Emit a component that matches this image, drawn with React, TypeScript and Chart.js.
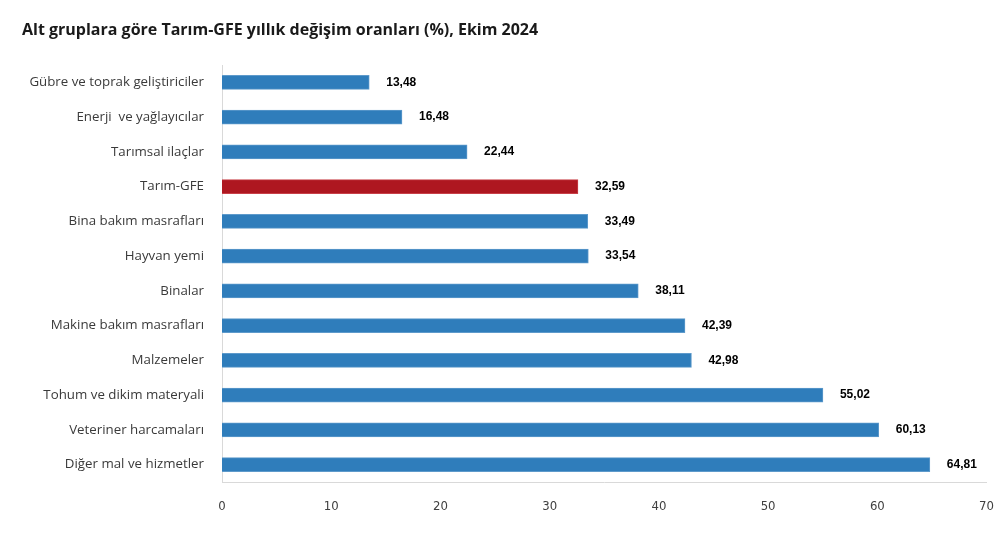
import React, { useEffect, useRef } from "react";
import { Chart, registerables } from "chart.js";

Chart.register(...registerables);

const categories = [
  "Gübre ve toprak geliştiriciler",
  "Enerji  ve yağlayıcılar",
  "Tarımsal ilaçlar",
  "Tarım-GFE",
  "Bina bakım masrafları",
  "Hayvan yemi",
  "Binalar",
  "Makine bakım masrafları",
  "Malzemeler",
  "Tohum ve dikim materyali",
  "Veteriner harcamaları",
  "Diğer mal ve hizmetler",
];
const values = [13.48, 16.48, 22.44, 32.59, 33.49, 33.54, 38.11, 42.39, 42.98, 55.02, 60.13, 64.81];
const highlight = "Tarım-GFE";
const xTicks = [0, 10, 20, 30, 40, 50, 60, 70];
const title = "Alt gruplara göre Tarım-GFE yıllık değişim oranları (%), Ekim 2024";

const BLUE = "#2F7DBB";
const RED = "#AE1720";

const labelPlugin = {
  id: "valueLabels",
  afterDatasetsDraw(chart: any) {
    const ctx = chart.ctx;
    const meta = chart.getDatasetMeta(0);
    ctx.save();
    ctx.font = "bold 12px 'Liberation Sans', Arial, sans-serif";
    ctx.fillStyle = "#000000";
    ctx.textBaseline = "middle";
    ctx.textAlign = "left";
    meta.data.forEach((bar: any, i: number) => {
      const txt = values[i].toFixed(2).replace(".", ",");
      ctx.fillText(txt, bar.x + 17, bar.y);
    });
    ctx.restore();
  },
};

const titlePlugin = {
  id: "customTitle",
  afterDraw(chart: any) {
    const ctx = chart.ctx;
    ctx.save();
    ctx.font = "bold 16px 'Open Sans', sans-serif";
    ctx.fillStyle = "#1a1a1a";
    ctx.textBaseline = "middle";
    ctx.textAlign = "left";
    ctx.fillText(title, 22, 30);
    ctx.restore();
  },
};

export default function App() {
  const ref = useRef<HTMLCanvasElement | null>(null);
  useEffect(() => {
    if (!ref.current) return;
    const chart = new Chart(ref.current, {
      type: "bar",
      data: {
        labels: categories,
        datasets: [
          {
            data: values,
            backgroundColor: categories.map((c) => (c === highlight ? RED : BLUE)),
            borderColor: categories.map((c) => (c === highlight ? "#C84048" : "#5E9ACB")),
            borderWidth: 1,
            barThickness: 14,
          },
        ],
      },
      options: {
        indexAxis: "y",
        responsive: false,
        animation: false,
        layout: { padding: { top: 65, right: 13, left: 0, bottom: 0 } },
        plugins: { legend: { display: false }, tooltip: { enabled: false }, title: { display: false } },
        scales: {
          x: {
            min: 0,
            max: 70,
            afterBuildTicks: (scale: any) => {
              scale.ticks = xTicks.map((v) => ({ value: v }));
            },
            afterFit: (scale: any) => {
              scale.height = 55;
            },
            grid: { display: false },
            border: { display: true, color: "#D9D9D9", width: 1 },
            ticks: {
              color: "#404040",
              padding: 9,
              font: { family: "'Liberation Sans Narrow', 'DejaVu Sans Condensed', sans-serif", size: 13 },
            },
          },
          y: {
            afterFit: (scale: any) => {
              scale.width = 222;
            },
            grid: { display: false },
            border: { display: true, color: "#D9D9D9", width: 1 },
            ticks: {
              color: "#3A3A3A",
              padding: 10,
              font: { family: "'Open Sans', sans-serif", size: 13.3 },
            },
          },
        },
      },
      plugins: [labelPlugin, titlePlugin],
    });
    return () => chart.destroy();
  }, []);
  return (
    <div style={{ position: "fixed", left: 0, top: 0, width: 1003, height: 537, background: "#fff" }}>
      <canvas ref={ref} width={1003} height={537} style={{ width: 1003, height: 537 }} />
    </div>
  );
}
